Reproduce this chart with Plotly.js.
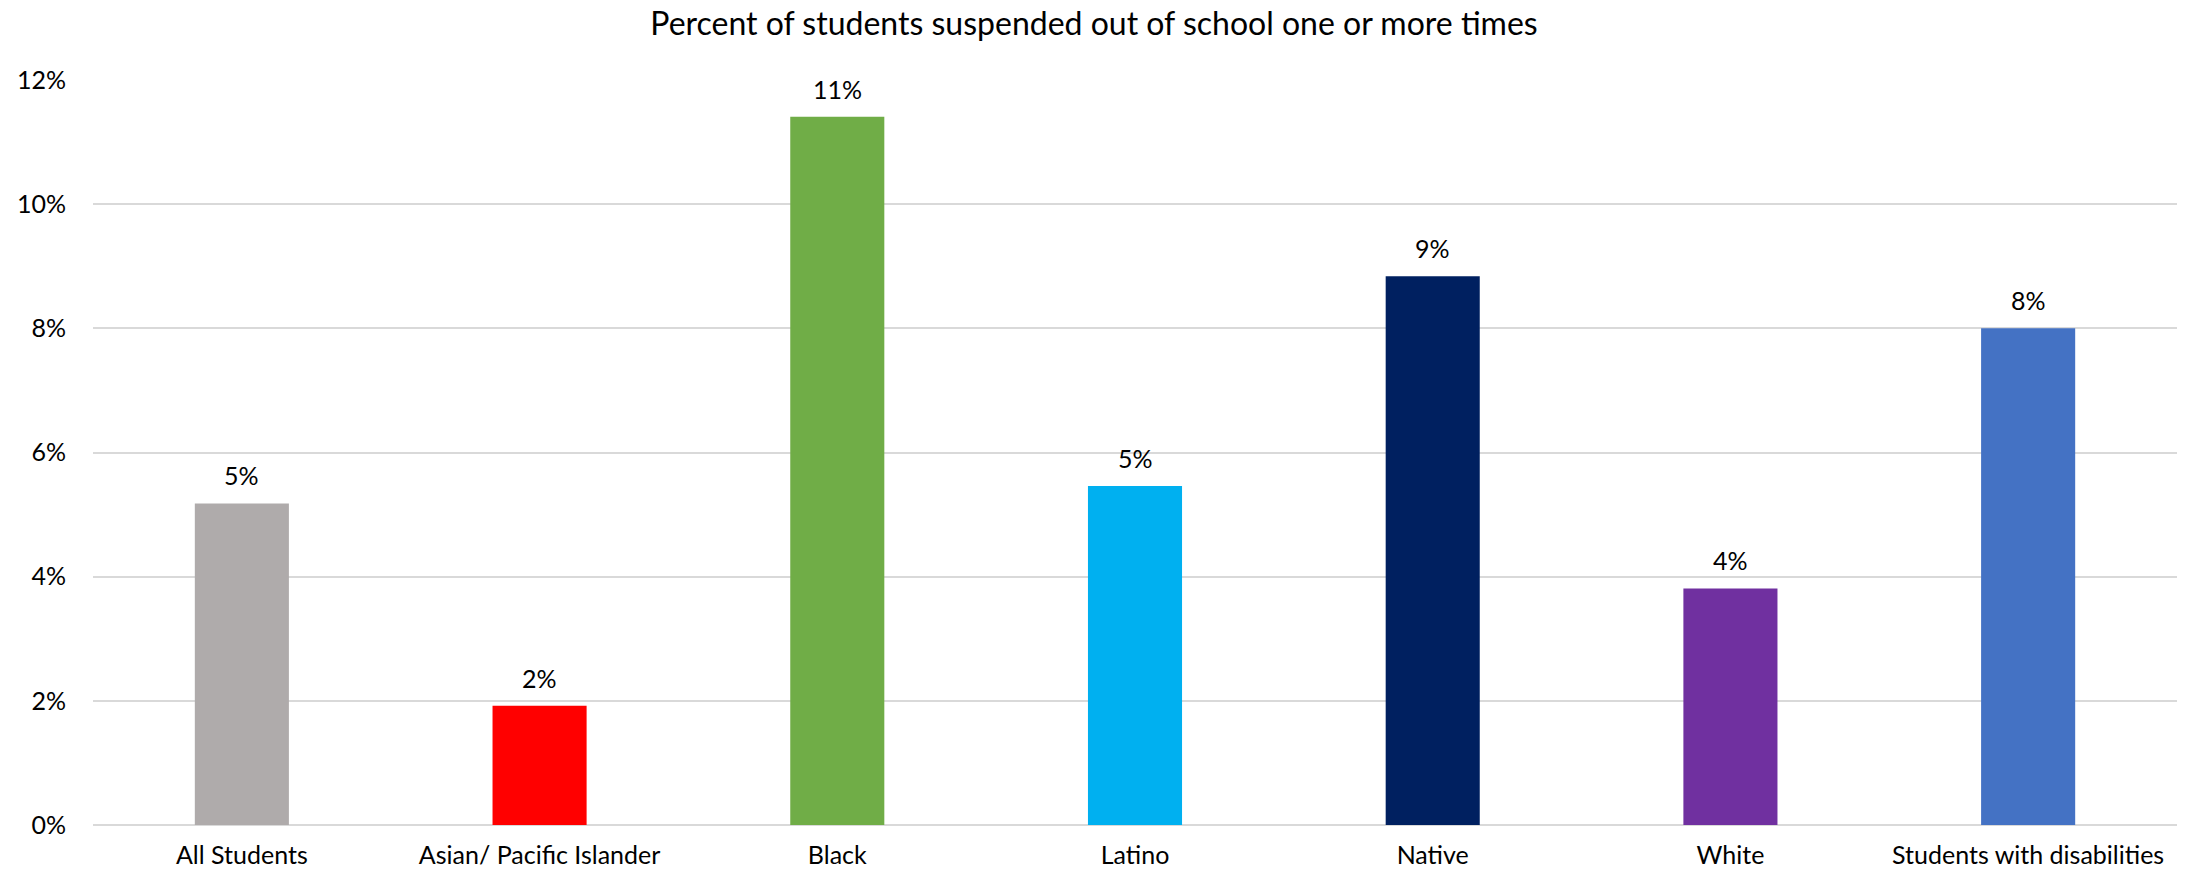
<!DOCTYPE html>
<html>
<head>
<meta charset="utf-8">
<script src="https://cdn.plot.ly/plotly-3.0.1.min.js"></script>
<style>html,body{margin:0;padding:0;background:#fff;}#chart{width:2188px;height:875px;}</style>
</head>
<body>
<div id="chart"></div>
<script>
const categories = ["All Students", "Asian/ Pacific Islander", "Black", "Latino", "Native", "White", "Students with disabilities"];
const values = [0.0518, 0.0192, 0.1141, 0.0546, 0.0884, 0.0381, 0.0800];
const colors = ["#AFABAB", "#FF0000", "#70AD47", "#00B0F0", "#002060", "#7030A0", "#4472C4"];
const yTicks = [0, 0.02, 0.04, 0.06, 0.08, 0.10, 0.12];
const yTickLabels = ["0%", "2%", "4%", "6%", "8%", "10%", "12%"];

const fontFam = "Lato, 'Open Sans', sans-serif";

const trace = {
  type: "bar",
  x: categories,
  y: values,
  marker: {color: colors, line: {width: 0}},
  hoverinfo: "skip"
};

const annotations = categories.map((c, i) => ({
  x: c, y: values[i], xref: "x", yref: "y",
  text: Math.round(values[i] * 100) + "%",
  showarrow: false, yanchor: "bottom", yshift: 11,
  font: {family: fontFam, size: 25, color: "#000"}
}));

const layout = {
  width: 2188, height: 875,
  paper_bgcolor: "#fff", plot_bgcolor: "#fff",
  margin: {l: 93, r: 11, t: 79.5, b: 50},
  bargap: 0.684,
  showlegend: false,
  title: {
    text: "Percent of students suspended out of school one or more times",
    font: {family: fontFam, size: 32, color: "#000"},
    x: 0.5, xanchor: "center", y: 1 - 24 / 875, yanchor: "middle"
  },
  xaxis: {
    type: "category",
    tickfont: {family: fontFam, size: 25, color: "#000"},
    showgrid: false, showline: false, ticks: "",
    ticklabelstandoff: 13
  },
  yaxis: {
    range: [0, 0.12],
    tickvals: yTicks, ticktext: yTickLabels,
    tickfont: {family: fontFam, size: 25, color: "#000"},
    showgrid: true, gridcolor: "#d9d9d9", gridwidth: 2,
    zeroline: true, zerolinecolor: "#d9d9d9", zerolinewidth: 2,
    showline: false, ticks: "",
    ticklabelstandoff: 26
  },
  annotations: annotations
};

Plotly.newPlot("chart", [trace], layout, {displayModeBar: false, staticPlot: true});
</script>
</body>
</html>
